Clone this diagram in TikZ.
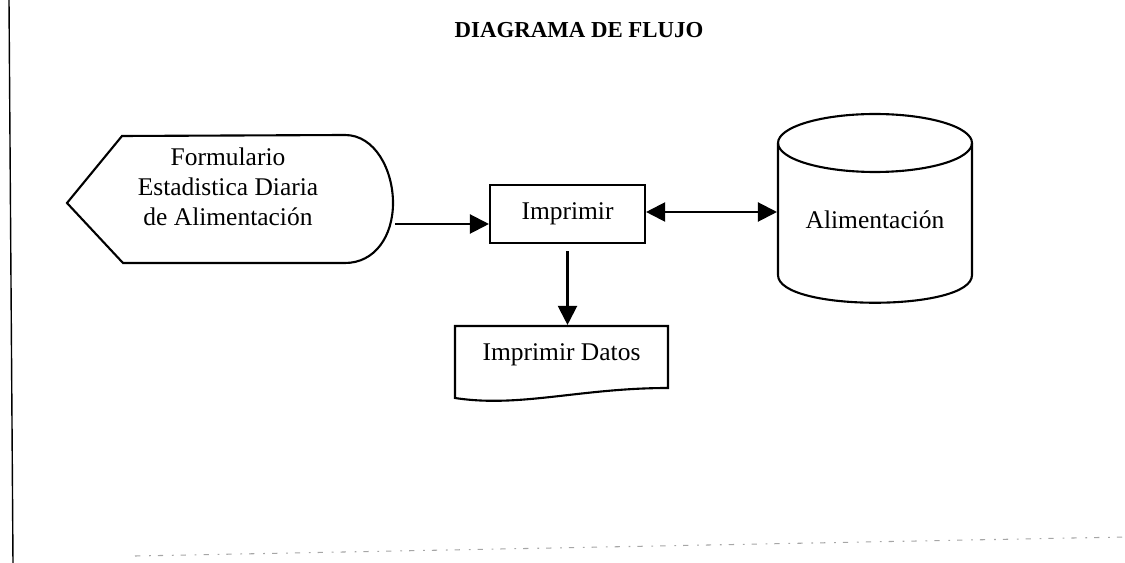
\documentclass[tikz,border=0pt]{standalone}
\usepackage{fontspec}
\setmainfont{Liberation Serif}
\usetikzlibrary{arrows.meta}

\begin{document}
\begin{tikzpicture}[x=0.02cm,y=-0.02cm,
    line width=1.2pt,
    flecha/.style={-{Triangle[length=0.38cm,width=0.38cm]}},
    dobleflecha/.style={{Triangle[length=0.38cm,width=0.38cm]}-{Triangle[length=0.38cm,width=0.38cm]}},
    texto/.style={font=\fontsize{14.5}{17}\selectfont,align=center,inner sep=0pt},
    caja/.style={texto,draw,minimum width=3.1cm,minimum height=1.16cm}]
        \useasboundingbox (0,0) rectangle (1125,563);
        % Draw page margins
        \draw[line width=0.8pt] (9,0) -- (13,563);
        \draw[line width=0.6pt,gray!70,dash pattern=on 3pt off 5pt on 1pt off 4pt] (135,556) -- (1125,537);
        % Draw title
        \node[font=\fontsize{13}{15}\selectfont\bfseries] (titulo) at (579,30) {DIAGRAMA DE FLUJO};
        % Draw input form (display shape)
        \draw (67,203) -- (122,136) -- (345,135)
            .. controls (375,135) and (393,170) .. (393,203)
            .. controls (393,236) and (375,263) .. (345,263) -- (123,263) -- cycle;
        \node[texto] (formulario) at (228,187) {Formulario\\Estadistica Diaria\\de Alimentación};
        \coordinate (formularioE) at (395,224);
        % Draw process box
        \node[caja] (imprimir) at (567.5,214) {Imprimir};
        % Draw database (cylinder)
        \draw (875,143) ellipse [x radius=1.94cm,y radius=0.58cm];
        \draw (778,143) -- (778,275) .. controls (778,312) and (972,312) .. (972,275) -- (972,143);
        \node[texto,minimum width=3.88cm] (alimentacion) at (875,220) {Alimentación};
        % Draw output document
        \node[texto,minimum width=4.26cm,minimum height=1.16cm] (datos) at (561.5,355) {Imprimir Datos};
        \draw (455,326) -- (668,326) -- (668,388)
            .. controls (580,388) and (520,408) .. (455,398) -- cycle;
        % Draw connectors
        \draw[flecha] (formularioE) -- (formularioE -| imprimir.west);
        \draw[dobleflecha] ([yshift=0.04cm]imprimir.east) -- ([yshift=0.04cm]imprimir.east -| alimentacion.west);
        \draw[flecha,shorten <=0.14cm] (imprimir.south) -- (imprimir.south |- datos.north);
    \end{tikzpicture}
\end{document}
